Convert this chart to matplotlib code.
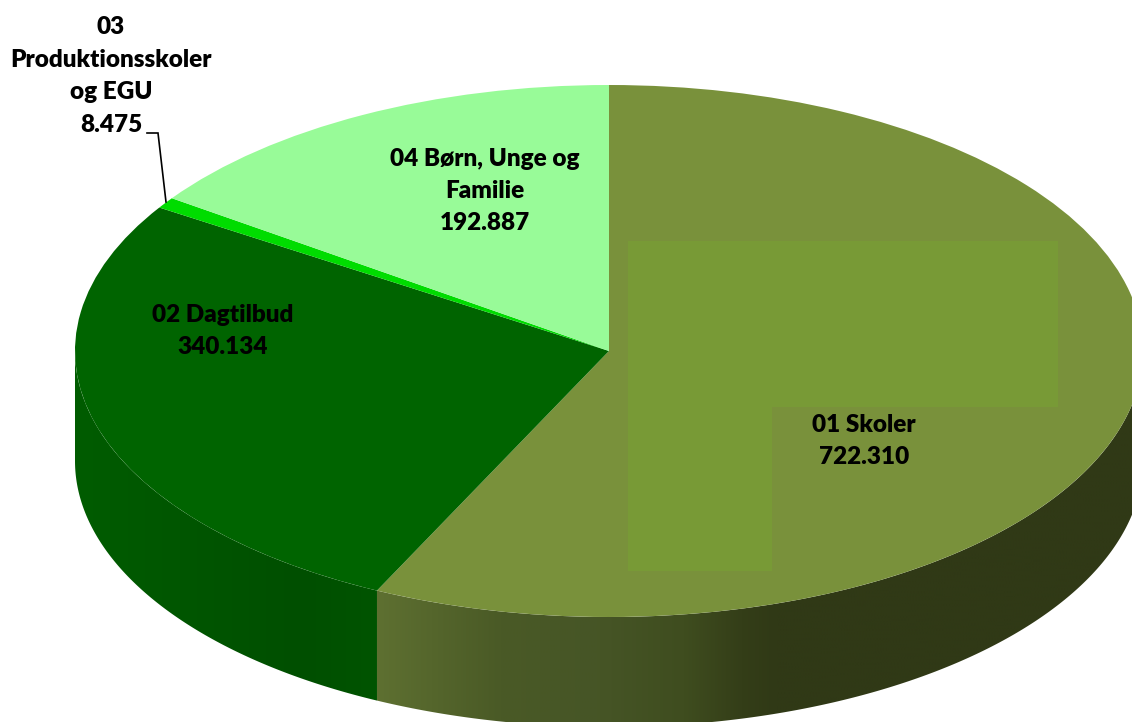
import numpy as np
import matplotlib
matplotlib.use("Agg")
import matplotlib.pyplot as plt
from matplotlib.colors import LinearSegmentedColormap
from matplotlib.patches import Polygon

names = ["01 Skoler", "02 Dagtilbud", "03\nProduktionsskoler\nog EGU", "04 Børn, Unge og\nFamilie"]
values = [722.310, 340.134, 8.475, 192.887]
top_colors = ["#79913b", "#006400", "#00dc00", "#98fb98"]

W, H = 1132, 722
CX, CY = 609, 351  # pie centre in pixels
RX, RY = 534, 266  # ellipse radii in pixels
DEPTH = 110 / RY   # wall height, in axis units


def px(x, y):
    return (x - CX) / RX, (CY - y) / RY


plt.rcParams["font.family"] = ["Lato", "DejaVu Sans"]

fig = plt.figure(figsize=(W / 100, H / 100), dpi=100)
ax = fig.add_axes([0, 0, 1, 1])

fractions = np.array(values) / sum(values)
edges = np.concatenate([[0], np.cumsum(fractions)]) * 2 * np.pi


def wall(a0, a1, stops, zorder=1):
    # outer side of the slice, only the part facing the viewer
    a0, a1 = max(a0, np.pi / 2), min(a1, 3 * np.pi / 2)
    if a1 <= a0:
        return
    t = np.linspace(a0, a1, 200)
    x, y = np.sin(t), np.cos(t)
    verts = np.r_[np.c_[x, y], np.c_[x[::-1], y[::-1] - DEPTH]]
    patch = Polygon(verts, closed=True, fc="none", ec="none", transform=ax.transData)
    ax.add_patch(patch)
    cmap = LinearSegmentedColormap.from_list("wall", stops)
    grad = np.linspace(0, 1, 256).reshape(1, -1)
    im = ax.imshow(grad, cmap=cmap, aspect="auto", zorder=zorder, interpolation="bilinear",
                   extent=(x.min(), x.max(), y.min() - DEPTH, y.max()))
    im.set_clip_path(patch)


# side walls, colours run left to right in each slice
wall(edges[0], edges[1], [(0, "#5e7031"), (0.07, "#55662c"), (0.16, "#4a5a26"), (0.29, "#465526"),
                          (0.4, "#3f4d1f"), (0.475, "#343e18"), (0.52, "#303916"), (1, "#303916")])
wall(edges[1], edges[2], [(0, "#005c00"), (0.75, "#004f00"), (1, "#005400")])

ax.pie(values, colors=top_colors, startangle=90, counterclock=False, radius=1,
       wedgeprops=dict(linewidth=0, zorder=3))
ax.set_aspect("auto")
ax.set_xlim(*[px(v, 0)[0] for v in (0, W)])
ax.set_ylim(px(0, H)[1], px(0, 0)[1])
ax.axis("off")

# lighter L shaped patch lying over the big slice
lshape = [(628, 241), (1058, 241), (1058, 407), (772, 407), (772, 571), (628, 571)]
ax.add_patch(Polygon([px(*p) for p in lshape], closed=True, fc="#789a36", ec="none", zorder=4))

# leader line for the small slice
leader = [px(147, 133), px(158, 133), px(166, 202)]
ax.plot(*zip(*leader), color="black", lw=1.2, zorder=5, solid_joinstyle="miter")

label_pos = [(864, 441), (223, 331), (111, 76), (485, 191)]
for name, val, pos in zip(names, values, label_pos):
    x, y = px(*pos)
    ax.text(x, y, f"{name}\n{val:.3f}", ha="center", va="center", fontsize=17.5,
            fontweight="heavy", linespacing=1.58, color="black", zorder=6)

fig.savefig("out.png", dpi=100)
plt.close(fig)
